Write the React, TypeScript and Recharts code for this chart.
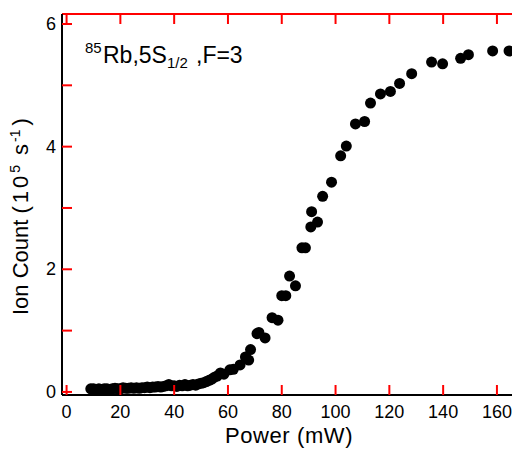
import React from 'react';
import { ScatterChart, Scatter, XAxis, YAxis } from 'recharts';

// power (mW)
const powerMW = [
  9, 10, 11, 12, 13, 14, 15, 16, 17, 18, 19, 20, 21, 22, 23, 24, 25, 26, 27, 28,
  29, 30, 31, 32, 33, 34, 35, 36, 37, 38, 39, 40, 41, 42, 43, 44, 45, 46, 47, 48,
  49, 50, 51, 52, 53, 54, 55, 56, 57.2, 58.5, 60.7, 62, 64.5, 66.5, 67.7, 68.4,
  70.8, 71.5, 73.8, 76.4, 78.6, 80, 81.5, 82.9, 85.1, 87.5, 88.8, 90.8, 91.1, 93.3,
  95.2, 98.5, 101.9, 104, 107.4, 110.8, 113, 116.7, 120.4, 123.8, 128.3, 135.7,
  139.8, 146.5, 149.4, 158.4, 164.5,
];

// ion count (10^5 s^-1)
const ionCount = [
  0.05, 0.05, 0.04, 0.05, 0.04, 0.05, 0.05, 0.04, 0.05, 0.06, 0.05, 0.05, 0.07, 0.06, 0.06, 0.07, 0.06, 0.07, 0.06, 0.07,
  0.07, 0.08, 0.07, 0.08, 0.08, 0.09, 0.08, 0.09, 0.1, 0.12, 0.1, 0.1, 0.09, 0.11, 0.1, 0.12, 0.1, 0.11, 0.12, 0.11,
  0.13, 0.14, 0.15, 0.17, 0.19, 0.21, 0.24, 0.26, 0.31, 0.29, 0.36, 0.37, 0.44, 0.57, 0.52, 0.69,
  0.95, 0.97, 0.88, 1.21, 1.17, 1.57, 1.57, 1.89, 1.73, 2.35, 2.35, 2.69, 2.94, 2.77,
  3.19, 3.42, 3.85, 4.01, 4.37, 4.41, 4.71, 4.86, 4.9, 5.03, 5.19, 5.38,
  5.35, 5.44, 5.5, 5.56, 5.56,
];

const xTicks = [0, 20, 40, 60, 80, 100, 120, 140, 160];
const yTicks = [0, 1, 2, 3, 4, 5, 6];
const yLabelled = [0, 2, 4, 6];

const data = powerMW.map((p, i) => ({ power: p, ions: ionCount[i] }));

const font = '"Liberation Sans", Arial, Helvetica, sans-serif';
const tickColour = 'red'; // checking the inward ticks show up

const BottomTick = (props: any) => {
  const { x, y, payload } = props;
  return (
    <g>
      <line x1={x} y1={y} x2={x} y2={y - 10} stroke={tickColour} strokeWidth={2} />
      <text x={x} y={y + 23} textAnchor="middle" fontFamily={font} fontSize={18} fill="#000">
        {payload.value}
      </text>
    </g>
  );
};

const TopTick = (props: any) => {
  const { x, y } = props;
  return <line x1={x} y1={y} x2={x} y2={y + 10} stroke={tickColour} strokeWidth={2} />;
};

const LeftTick = (props: any) => {
  const { x, y, payload } = props;
  return (
    <g>
      <line x1={x} y1={y} x2={x + 10} y2={y} stroke={tickColour} strokeWidth={2} />
      {yLabelled.includes(payload.value) && (
        <text x={x - 6} y={y + 6} textAnchor="end" fontFamily={font} fontSize={18} fill="#000">
          {payload.value}
        </text>
      )}
    </g>
  );
};

const RightTick = (props: any) => {
  const { x, y } = props;
  return <line x1={x} y1={y} x2={x - 6} y2={y} stroke={tickColour} strokeWidth={2} />;
};

const Dot = (props: any) => <circle cx={props.cx} cy={props.cy} r={5.5} fill="#000" />;

const Labels = () => (
  <svg
    width={512}
    height={450}
    style={{ position: 'absolute', left: 0, top: 0, pointerEvents: 'none' }}
  >
    <text x={85} y={53} fontFamily={font} fill="#000">
      <tspan fontSize={15}>85</tspan>
      <tspan x={103} y={63} fontSize={23}>Rb,5S</tspan>
      <tspan y={68} fontSize={15}>1/2</tspan>
      <tspan x={196} y={63} fontSize={23}>,F=3</tspan>
    </text>
    <text x={289} y={443} textAnchor="middle" fontFamily={font} fontSize={22} fill="#000" letterSpacing={0.6}>
      Power (mW)
    </text>
    <text x={28} y={315} transform="rotate(-90, 28, 315)" fontFamily={font} fontSize={22} fill="#000">
      <tspan>Ion Count </tspan>
      <tspan letterSpacing={3}>(10</tspan>
      <tspan dy={-8} fontSize={14}>5</tspan>
      <tspan dy={8} dx={10}>s</tspan>
      <tspan dy={-8} dx={2} fontSize={14}>-1</tspan>
      <tspan dy={8} dx={4}>)</tspan>
    </text>
  </svg>
);

const App = () => {
  return (
    <div style={{ position: 'absolute', left: 0, top: 0, width: 512, height: 450 }}>
      <ScatterChart width={512} height={450} margin={{ top: 0, right: 0, bottom: 0, left: 0 }}>
        <XAxis
          xAxisId="bottom"
          orientation="bottom"
          dataKey="power"
          type="number"
          domain={[-1.7, 165.6]}
          ticks={xTicks}
          interval={0}
          height={55}
          tickSize={0}
          tickMargin={0}
          tick={<BottomTick />}
          tickLine={false}
          axisLine={{ stroke: '#000', strokeWidth: 2 }}
        />
        <XAxis
          xAxisId="top"
          orientation="top"
          dataKey="power"
          type="number"
          domain={[-1.7, 165.6]}
          ticks={xTicks}
          interval={0}
          height={14}
          tickSize={0}
          tickMargin={0}
          tick={<TopTick />}
          tickLine={false}
          axisLine={{ stroke: tickColour, strokeWidth: 2 }}
        />
        <YAxis
          yAxisId="left"
          orientation="left"
          dataKey="ions"
          type="number"
          domain={[-0.05, 6.163]}
          ticks={yTicks}
          interval={0}
          width={62}
          tickSize={0}
          tickMargin={0}
          tick={<LeftTick />}
          tickLine={false}
          axisLine={{ stroke: '#000', strokeWidth: 2 }}
        />
        <YAxis
          yAxisId="right"
          orientation="right"
          dataKey="ions"
          type="number"
          domain={[-0.05, 6.163]}
          ticks={yTicks}
          interval={0}
          width={0}
          tickSize={0}
          tickMargin={0}
          tick={<RightTick />}
          tickLine={false}
          axisLine={false}
        />
        <Scatter
          data={data}
          xAxisId="top"
          yAxisId="right"
          shape={() => <g />}
          isAnimationActive={false}
        />
        <Scatter
          data={data}
          xAxisId="bottom"
          yAxisId="left"
          fill="#000"
          shape={<Dot />}
          isAnimationActive={false}
        />
      </ScatterChart>
      <Labels />
    </div>
  );
};

export default App;
